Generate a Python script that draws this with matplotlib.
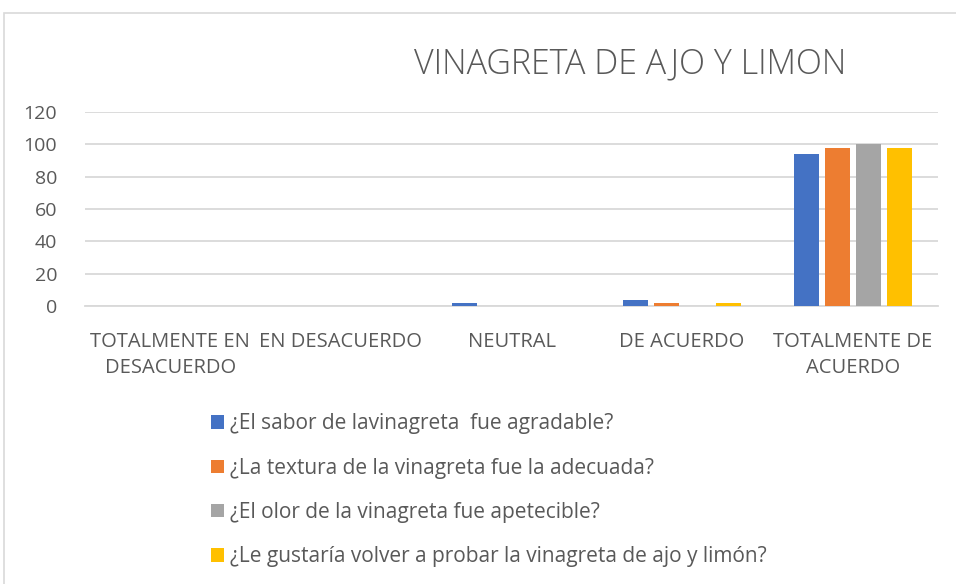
import numpy as np
from matplotlib import pyplot as plt
from matplotlib.patches import Rectangle

# respuestas por categoría (%)
categorias = ['TOTALMENTE EN\nDESACUERDO', 'EN DESACUERDO', 'NEUTRAL',
              'DE ACUERDO', 'TOTALMENTE DE\nACUERDO']
sabor = [0, 0, 2, 4, 94]
textura = [0, 0, 0, 2, 98]
olor = [0, 0, 0, 0, 100]
volver = [0, 0, 0, 2, 98]

series = [
    ('¿El sabor de lavinagreta  fue agradable?', sabor, '#4472C4'),
    ('¿La textura de la vinagreta fue la adecuada?', textura, '#ED7D31'),
    ('¿El olor de la vinagreta fue apetecible?', olor, '#A5A5A5'),
    ('¿Le gustaría volver a probar la vinagreta de ajo y limón?', volver, '#FFC000'),
]

plt.rcParams['font.family'] = ['Open Sans', 'DejaVu Sans']
gris_texto = '#595959'

fig = plt.figure(figsize=(9.56, 5.84), dpi=100)
# marco del gráfico
fig.patches.append(Rectangle((4 / 956, -0.1), 1.1, 1 - 13 / 584 + 0.1,
                             transform=fig.transFigure, fill=False,
                             edgecolor='#D9D9D9', linewidth=1.2))

ax = fig.add_axes([85 / 956, 1 - 306 / 584, (938 - 85) / 956, (306 - 112) / 584])
x = np.arange(len(categorias))
ancho = 0.147
paso = 0.182
for i, (nombre, valores, color) in enumerate(series):
    ax.bar(x + (i - 1.5) * paso, valores, ancho, color=color, label=nombre, zorder=3)

ax.set_xlim(-0.5, len(categorias) - 0.5)
ax.set_ylim(0, 120)
ax.set_yticks(range(0, 121, 20))
ax.set_xticks(x)
ax.set_xticklabels(categorias, linespacing=1.4)
ax.tick_params(length=0, labelsize=14, colors=gris_texto)
ax.tick_params(axis='x', labelsize=14.5, pad=19)
ax.tick_params(axis='y', pad=20)
ax.grid(axis='y', color='#D9D9D9', linewidth=1.3, zorder=0)
for lado in ['top', 'right', 'left']:
    ax.spines[lado].set_visible(False)
ax.spines['bottom'].set_color('#D9D9D9')
ax.spines['bottom'].set_linewidth(1.3)

fig.text(630 / 956, 1 - 64 / 584, 'VINAGRETA DE AJO Y LIMON', ha='center', va='center',
         fontsize=24.5, fontweight='light', color=gris_texto)

fig.legend(loc='upper left', bbox_to_anchor=(203 / 956, 1 - 405 / 584), frameon=False,
           fontsize=15, labelcolor=gris_texto, handlelength=0.62, handleheight=0.62,
           handletextpad=0.3, labelspacing=1.12, borderaxespad=0)

fig.savefig('out.png', dpi=100)
